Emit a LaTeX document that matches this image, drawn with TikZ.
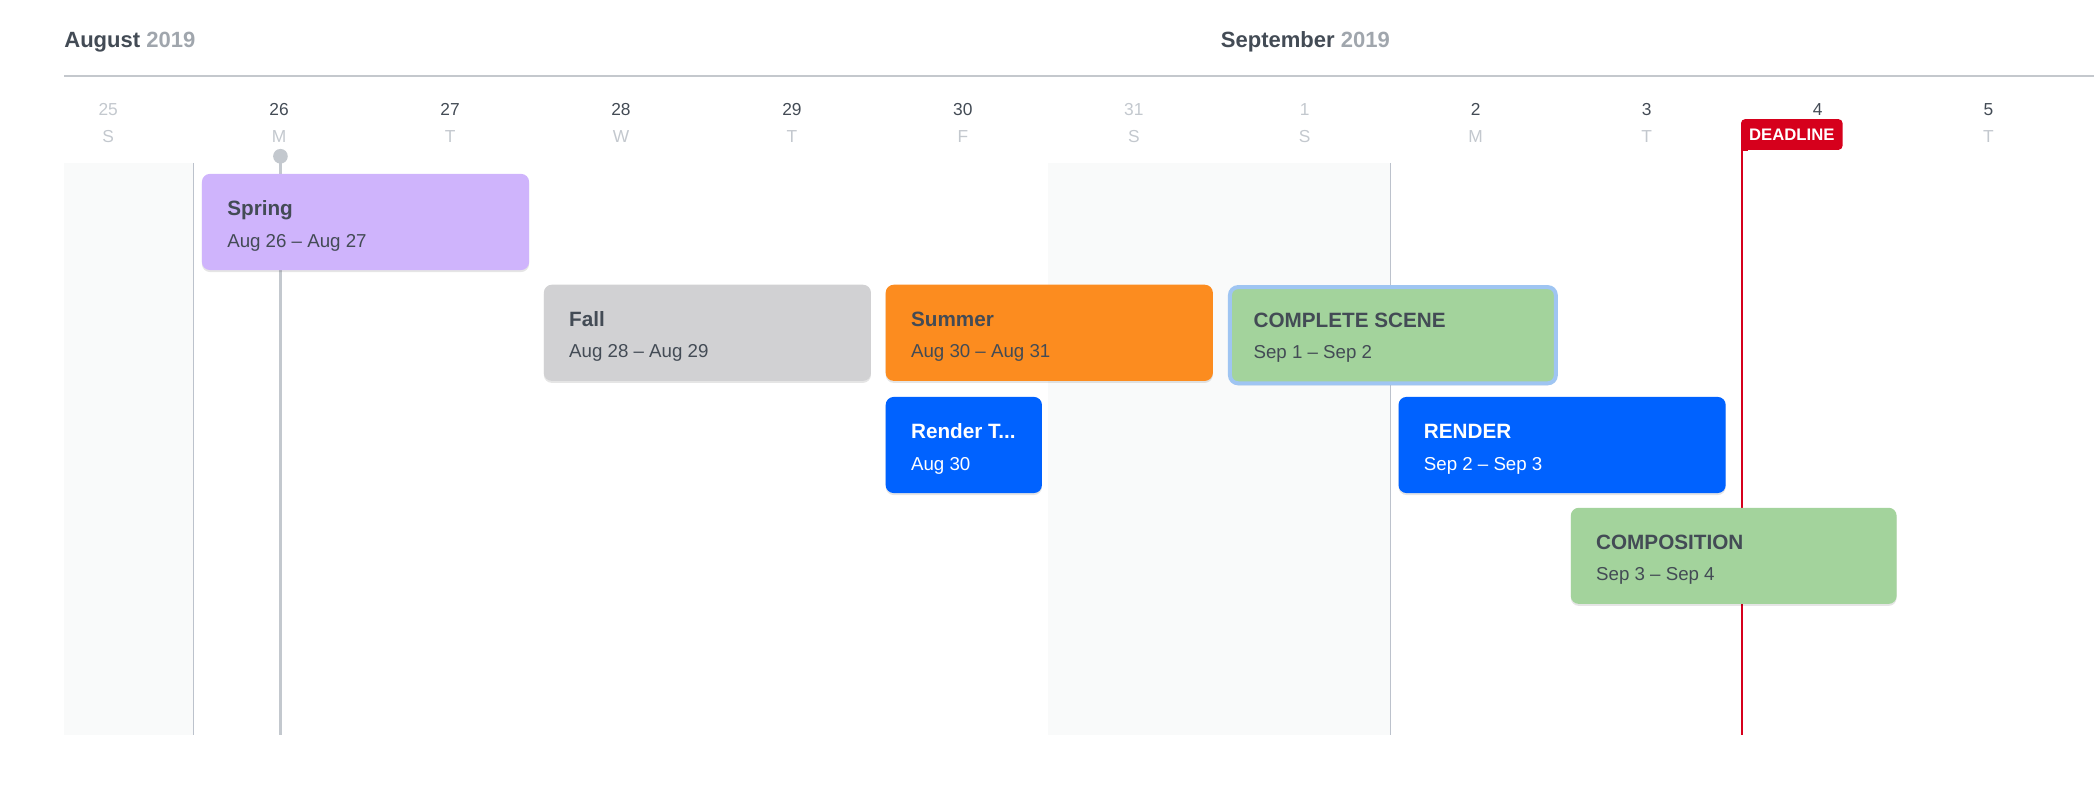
\documentclass[tikz,border=0pt]{standalone}
\usepackage{fontspec}
\setmainfont{Liberation Sans}
\usetikzlibrary{shadows}
\definecolor{dk}{HTML}{434B55}
\definecolor{yr}{HTML}{A0A6AD}
\definecolor{lt}{HTML}{C3C8CE}
\definecolor{hline}{HTML}{C4C8CD}
\definecolor{wline}{HTML}{BCC2CC}
\definecolor{wkend}{HTML}{F9FAFA}
\definecolor{purp}{HTML}{CFB4FC}
\definecolor{fallg}{HTML}{D1D1D3}
\definecolor{orng}{HTML}{FC8C1F}
\definecolor{grn}{HTML}{A3D39C}
\definecolor{blu}{HTML}{0062FF}
\definecolor{selb}{HTML}{9FC5F2}
\definecolor{ddl}{HTML}{D6001C}
\newcommand\titlef{\fontsize{15.5}{18}\selectfont\bfseries}
\newcommand\datef{\fontsize{14}{16}\selectfont}
\newcommand\mytask[8]{%
  \node[taskbox,fill=#5,minimum width=#4pt,anchor=north west,#8] (#1) at (#2,#3) {};
  \node[txt,font=\titlef,anchor=base west] (#1-t) at ([xshift=19pt,yshift=-31.5pt]#1.north west) {#6};
  \node[txt,font=\datef,anchor=base west] (#1-d) at ([xshift=19pt,yshift=-55pt]#1.north west) {#7};
}
\begin{document}
\begin{tikzpicture}[x=1pt,y=-1pt,
  taskbox/.style={rounded corners=6pt,minimum height=72pt,inner sep=0pt,
    drop shadow={shadow xshift=0pt,shadow yshift=-1.5pt,opacity=0.10,fill=black}},
  txt/.style={inner sep=0pt,text=dk},
  daynum/.style={inner sep=0pt,font=\fontsize{13}{15}\selectfont},
  dayltr/.style={inner sep=0pt,font=\fontsize{13}{15}\selectfont,text=lt},
  month/.style={inner sep=0pt,font=\fontsize{16.5}{19}\selectfont\bfseries,anchor=west}]
\useasboundingbox (0,0) rectangle (1568,598);
% weekend shading
\fill[wkend] (48,122) rectangle (145,550);
\fill[wkend] (785,122) rectangle (1041,550);
% month headers
\node[month] (aug) at (48,31.5) {\textcolor{dk}{August} \textcolor{yr}{2019}};
\node[month] (sep) at (914,31.5) {\textcolor{dk}{September} \textcolor{yr}{2019}};
\draw[hline,line width=1.5pt] (48,57) -- (1568,57);
% days
\foreach \d/\l/\c [count=\i from 0] in {25/S/lt,26/M/dk,27/T/dk,28/W/dk,29/T/dk,30/F/dk,31/S/lt,1/S/lt,2/M/dk,3/T/dk,4//dk,5/T/dk}{
  \node[daynum,text=\c] (dn\i) at (81+128*\i,82) {\d};
  \node[dayltr] (dl\i) at (81+128*\i,102) {\l};
}
% week lines
\draw[wline,line width=1pt] (145,122) -- (145,550);
\draw[wline,line width=1pt] (1041,122) -- (1041,550);
% today line
\fill[lt] (210,117) circle (5.5pt);
\draw[lt,line width=2pt] (210,117) -- (210,550);
% deadline line
\draw[ddl,line width=2pt] (1304.5,100) -- (1304.5,550);
% tasks
\mytask{spring}{151}{130}{245}{purp}{Spring}{Aug 26 -- Aug 27}{}
\mytask{fall}{407}{213}{245}{fallg}{Fall}{Aug 28 -- Aug 29}{}
\mytask{summer}{663}{213}{245}{orng}{Summer}{Aug 30 -- Aug 31}{}
\mytask{scene}{919.5}{213.5}{244}{grn}{COMPLETE SCENE}{Sep 1 -- Sep 2}{draw=selb,line width=3pt,minimum height=72pt}
\mytask{rendt}{663}{297}{117}{blu}{\textcolor{white}{Render T...}}{\textcolor{white}{Aug 30}}{}
\mytask{render}{1047}{297}{245}{blu}{\textcolor{white}{RENDER}}{\textcolor{white}{Sep 2 -- Sep 3}}{}
\mytask{compo}{1176}{380}{244}{grn}{COMPOSITION}{Sep 3 -- Sep 4}{}
% deadline label
\node[fill=ddl,rounded corners=3pt,anchor=north west,minimum width=76pt,minimum height=23pt,inner sep=0pt,
  text=white,font=\fontsize{12.5}{14}\selectfont\bfseries] (deadline) at (1303.5,89) {DEADLINE};
\fill[ddl] (1303.5,105) rectangle (1309,113);
\end{tikzpicture}
\end{document}
